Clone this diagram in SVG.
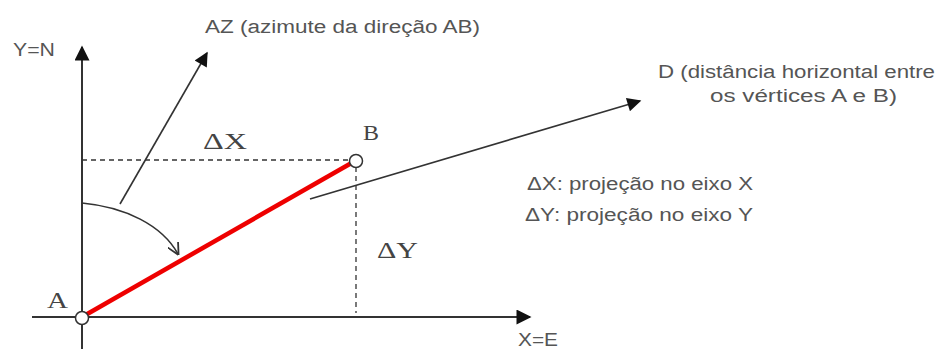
<svg xmlns="http://www.w3.org/2000/svg" width="941" height="349" viewBox="0 0 941 349">
<style>
.lbl{font-family:"Liberation Sans",Arial,sans-serif;font-size:18px;fill:#555}
.ser{font-family:"Liberation Serif","Times New Roman",serif;font-size:24px;fill:#444}
.ax{stroke:#333;stroke-width:2;fill:none}
.ln{stroke:#333;stroke-width:1.6;fill:none}
.dash{stroke:#333;stroke-width:1.3;stroke-dasharray:5,4;fill:none}
</style>
<defs>
<marker id="axh" viewBox="0 0 10 10" refX="9" refY="5" markerWidth="16" markerHeight="15" markerUnits="userSpaceOnUse" orient="auto">
<path d="M0,0 L10,5 L0,10 z" fill="#111"/>
</marker>
<marker id="big" viewBox="0 0 10 10" refX="9" refY="5" markerWidth="17" markerHeight="14" markerUnits="userSpaceOnUse" orient="auto">
<path d="M0,0 L10,5 L0,10 z" fill="#111"/>
</marker>
<marker id="open" viewBox="0 0 10 10" refX="9" refY="5" markerWidth="12" markerHeight="12" markerUnits="userSpaceOnUse" orient="auto">
<path d="M0,0 L10,5 L0,10" fill="none" stroke="#333" stroke-width="1.5"/>
</marker>
</defs>
<rect width="941" height="349" fill="#fff"/>
<g id="connectors">
<line id="y-axis" class="ax" x1="82" y1="349" x2="82" y2="47" marker-end="url(#axh)"/>
<line id="x-axis" class="ax" x1="32" y1="317" x2="530" y2="317" marker-end="url(#axh)"/>
<line id="dx-dash" class="dash" x1="82" y1="160" x2="349" y2="160"/>
<line id="dy-dash" class="dash" x1="356" y1="167" x2="356" y2="313"/>
<line id="ab" x1="82" y1="317" x2="355" y2="161" stroke="#e00" stroke-width="4.5"/>
<line id="az-arrow" class="ln" x1="120" y1="204" x2="207" y2="53" marker-end="url(#big)"/>
<line id="d-arrow" class="ln" x1="310" y1="199" x2="640" y2="101" marker-end="url(#big)"/>
<path id="az-arc" class="ln" d="M82,203 C125,207 162,225 178,254" marker-end="url(#open)"/>
</g>
<g id="A">
<circle cx="82" cy="318" r="6.5" fill="#fff" stroke="#333" stroke-width="1.5"/>
<text class="ser" x="47" y="308" textLength="21" lengthAdjust="spacingAndGlyphs">A</text>
</g>
<g id="B">
<circle cx="356" cy="161" r="6.5" fill="#fff" stroke="#333" stroke-width="1.5"/>
<text class="ser" x="363" y="140" style="font-size:20px" textLength="16" lengthAdjust="spacingAndGlyphs">B</text>
</g>
<g id="labels">
<text class="lbl" x="13" y="56" textLength="42" lengthAdjust="spacingAndGlyphs">Y=N</text>
<text class="lbl" x="518" y="346" textLength="40" lengthAdjust="spacingAndGlyphs">X=E</text>
<text class="lbl" x="205" y="33" textLength="275" lengthAdjust="spacingAndGlyphs">AZ (azimute da direção AB)</text>
<text class="lbl" x="658" y="78" textLength="277" lengthAdjust="spacingAndGlyphs">D (distância horizontal entre</text>
<text class="lbl" x="710" y="102" textLength="187" lengthAdjust="spacingAndGlyphs">os vértices A e B)</text>
<text class="lbl" x="527" y="190" textLength="226" lengthAdjust="spacingAndGlyphs">ΔX: projeção no eixo X</text>
<text class="lbl" x="525" y="221" textLength="228" lengthAdjust="spacingAndGlyphs">ΔY: projeção no eixo Y</text>
<text class="ser" x="203" y="149" textLength="44" lengthAdjust="spacingAndGlyphs">ΔX</text>
<text class="ser" x="377" y="258" textLength="41" lengthAdjust="spacingAndGlyphs">ΔY</text>
</g>
</svg>
